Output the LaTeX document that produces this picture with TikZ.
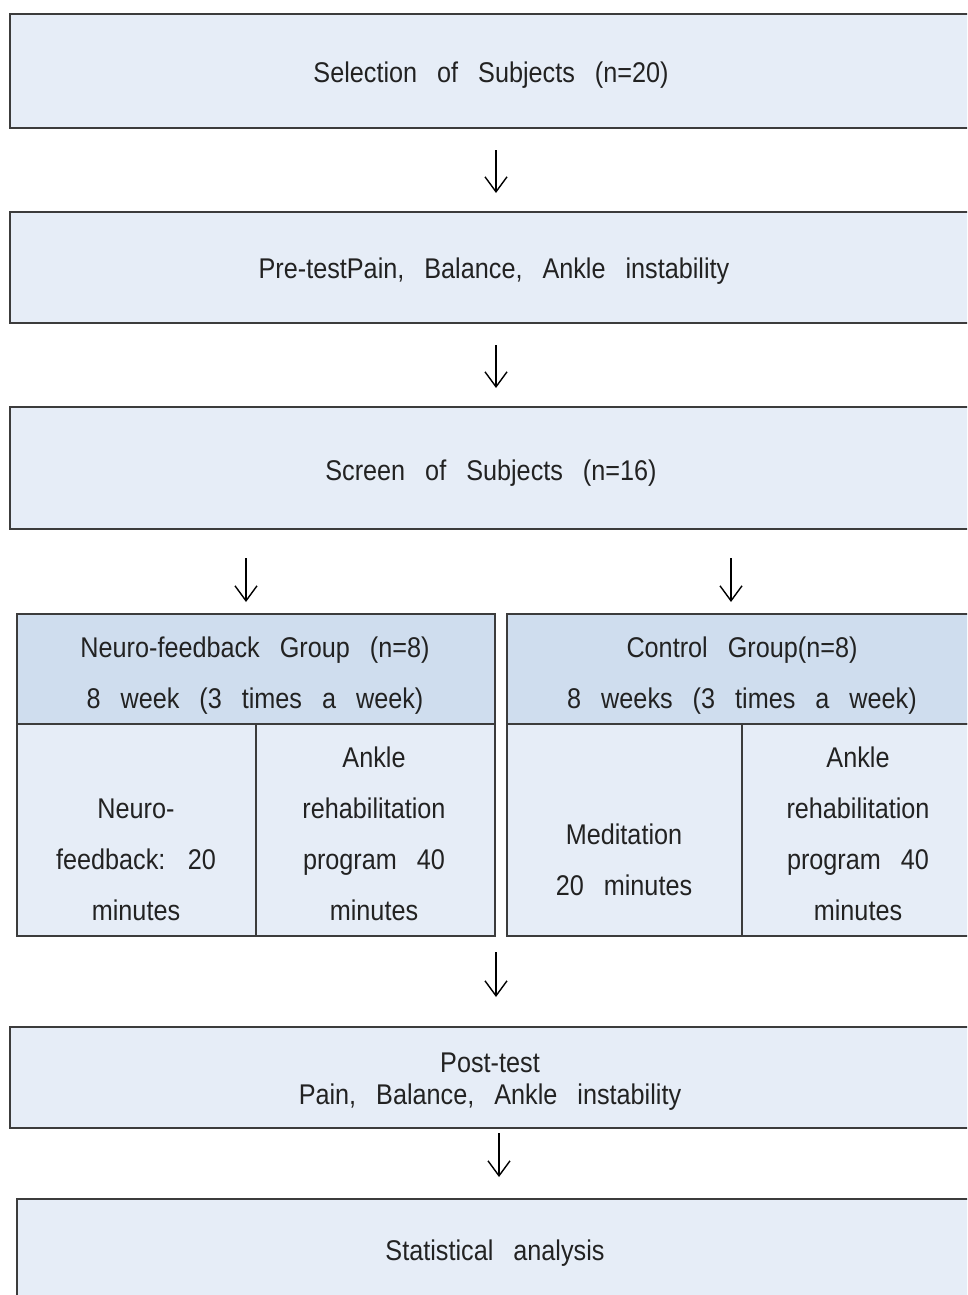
\documentclass[tikz,border=0pt]{standalone}
\usepackage{fontspec}
\setmainfont{Liberation Sans}[FakeStretch=0.885]
\usetikzlibrary{arrows.meta}
\definecolor{boxfill}{HTML}{E6EDF7}
\definecolor{headfill}{HTML}{CFDDEE}
\definecolor{edgecol}{HTML}{3C3C3C}
\definecolor{txtcol}{HTML}{222222}
\newcommand{\dgfont}{\fontsize{28.5}{32}\selectfont\spaceskip=20pt plus 2pt minus 2pt}
\newcommand{\dgfontw}{\fontsize{28.5}{51}\selectfont\spaceskip=20pt plus 2pt minus 2pt}
\begin{document}
\begin{tikzpicture}[x=1pt,y=-1pt,
  box/.style={draw=edgecol, line width=1.4pt, fill=boxfill, inner sep=0pt},
  head/.style={box, fill=headfill},
  lbl/.style={text=txtcol, font=\dgfont, align=center, inner sep=0pt},
  lblw/.style={lbl, font=\dgfontw},
  arr/.style={-{Straight Barb[length=15pt,width=22pt,line width=1.4pt]}, line width=1.4pt, draw=black}]
\useasboundingbox (0,0) rectangle (967,1295);
\clip (0,0) rectangle (967,1295);
\fill[white] (0,0) rectangle (967,1295);

% main boxes
\node[box, minimum width=966pt, minimum height=114pt] (b1) at (493,71) {};
\node[lbl] (t1) at (491,75) {Selection of Subjects (n=20)};
\node[box, minimum width=966pt, minimum height=111pt] (b2) at (493,267.5) {};
\node[lbl] (t2) at (494,271.5) {Pre-testPain, Balance, Ankle instability};
\node[box, minimum width=966pt, minimum height=122pt] (b3) at (493,468) {};
\node[lbl] (t3) at (491,473) {Screen of Subjects (n=16)};

% left group table
\node[head, minimum width=478pt, minimum height=110pt] (hL) at (256,669) {};
\node[lblw] (thL) at (255,676) {Neuro-feedback Group (n=8)\\8 week (3 times a week)};
\node[box, minimum width=239pt, minimum height=212pt] (cLL) at (136.5,830) {};
\node[box, minimum width=239pt, minimum height=212pt] (cLR) at (375.5,830) {};
\node[lblw] (tLL) at (136,860) {Neuro-\\feedback: 20\\minutes};
\node[lblw] (tLR) at (374,834) {Ankle\\rehabilitation\\program 40\\minutes};

% right group table
\node[head, minimum width=470pt, minimum height=110pt] (hR) at (742,669) {};
\node[lblw] (thR) at (742,676) {Control Group(n=8)\\8 weeks (3 times a week)};
\node[box, minimum width=235pt, minimum height=212pt] (cRL) at (624.5,830) {};
\node[box, minimum width=235pt, minimum height=212pt] (cRR) at (859.5,830) {};
\node[lblw] (tRL) at (624,860) {Meditation\\20 minutes};
\node[lblw] (tRR) at (858,834) {Ankle\\rehabilitation\\program 40\\minutes};

% lower boxes
\node[box, minimum width=966pt, minimum height=101pt] (b4) at (493,1077.5) {};
\node[lbl] (t4) at (490,1081.5) {Post-test\\Pain, Balance, Ankle instability};
\node[box, minimum width=960pt, minimum height=103pt] (b5) at (497,1250.5) {};
\node[lbl] (t5) at (495,1253.5) {Statistical analysis};

% arrows
\coordinate (a1s) at (496,150); \coordinate (a1e) at (496,193);
\coordinate (a2s) at (496,345); \coordinate (a2e) at (496,388);
\coordinate (a3s) at (246,558); \coordinate (a3e) at (246,602);
\coordinate (a4s) at (731,558); \coordinate (a4e) at (731,602);
\coordinate (a5s) at (496,952); \coordinate (a5e) at (496,997);
\coordinate (a6s) at (499,1133); \coordinate (a6e) at (499,1177);
\draw[arr] (a1s) -- (a1e);
\draw[arr] (a2s) -- (a2e);
\draw[arr] (a3s) -- (a3e);
\draw[arr] (a4s) -- (a4e);
\draw[arr] (a5s) -- (a5e);
\draw[arr] (a6s) -- (a6e);
\end{tikzpicture}
\end{document}
